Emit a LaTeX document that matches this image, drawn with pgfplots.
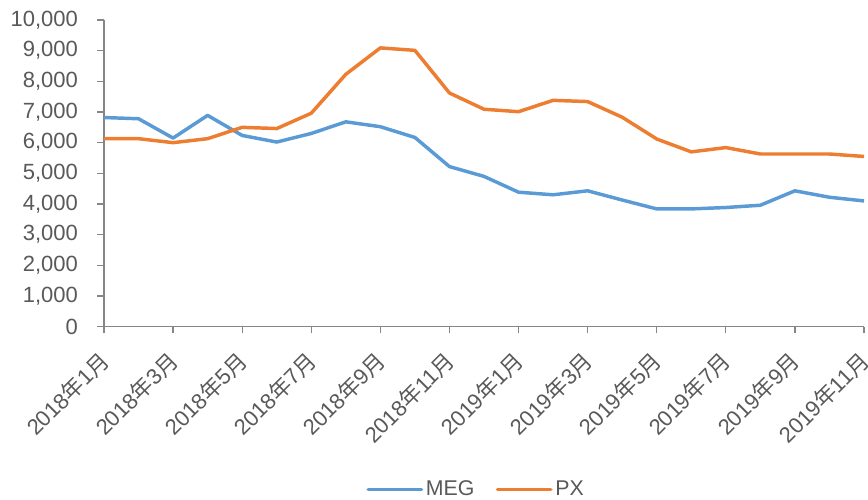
\documentclass[border=0pt]{standalone}
\usepackage{fontspec}
\setmainfont{Liberation Sans}
\newfontfamily\cjk{Noto Sans CJK SC}
\usepackage{pgfplots}
\pgfplotsset{compat=1.18}
\definecolor{megc}{HTML}{5B9BD5}
\definecolor{pxc}{HTML}{ED7D31}
\definecolor{txt}{HTML}{595959}
\definecolor{axc}{HTML}{868686}
\newcommand{\ym}[2]{#1{\cjk 年}#2{\cjk 月}}
\begin{document}
\begin{tikzpicture}
\useasboundingbox (-78pt,-129.75pt) rectangle (573pt,245pt);
\begin{axis}[
  at={(0,0)}, anchor=south west,
  scale only axis, width=570pt, height=230pt,
  xmin=0, xmax=22, ymin=0, ymax=10000,
  axis x line*=bottom, axis y line*=left,
  axis line style={axc, line width=0.9pt, -},
  tick style={axc, line width=0.9pt},
  tick align=outside, major tick length=5pt,
  xtick={0,2,...,22},
  xticklabels={\ym{2018}{1},\ym{2018}{3},\ym{2018}{5},\ym{2018}{7},\ym{2018}{9},\ym{2018}{11},\ym{2019}{1},\ym{2019}{3},\ym{2019}{5},\ym{2019}{7},\ym{2019}{9},\ym{2019}{11}},
  ytick={0,1000,...,10000},
  /pgf/number format/assume math mode=true,
  /pgf/number format/1000 sep={,},
  scaled y ticks=false,
  every tick label/.append style={font=\fontsize{16.5}{19}\selectfont, text=txt},
  xticklabel style={xshift=3pt, yshift=-15pt, rotate=45, anchor=east},
  yticklabel style={xshift=-11pt},
  legend style={at={(0.49,-122pt)}, anchor=center, draw=none, legend columns=2,
    font=\fontsize{16}{18}\selectfont, text=txt,
    /tikz/every even column/.append style={column sep=14pt}},
  legend image code/.code={\draw[#1, line width=2.6pt, line cap=round] (0pt,0pt) -- (40pt,0pt);},
  clip=false,
]
\addplot[megc, line width=2.6pt, line join=round] coordinates {
(0,6820) (1,6780) (2,6150) (3,6890) (4,6235) (5,6020) (6,6300) (7,6680)
(8,6520) (9,6170) (10,5220) (11,4900) (12,4385) (13,4300) (14,4430)
(15,4130) (16,3840) (17,3840) (18,3885) (19,3960) (20,4430) (21,4220) (22,4100)};
\addlegendentry{MEG}
\addplot[pxc, line width=2.6pt, line join=round] coordinates {
(0,6130) (1,6130) (2,6000) (3,6130) (4,6500) (5,6460) (6,6960) (7,8230)
(8,9090) (9,9010) (10,7620) (11,7090) (12,7010) (13,7380) (14,7340)
(15,6830) (16,6120) (17,5700) (18,5840) (19,5630) (20,5630) (21,5630) (22,5550)};
\addlegendentry{PX}
\end{axis}
\end{tikzpicture}
\end{document}
